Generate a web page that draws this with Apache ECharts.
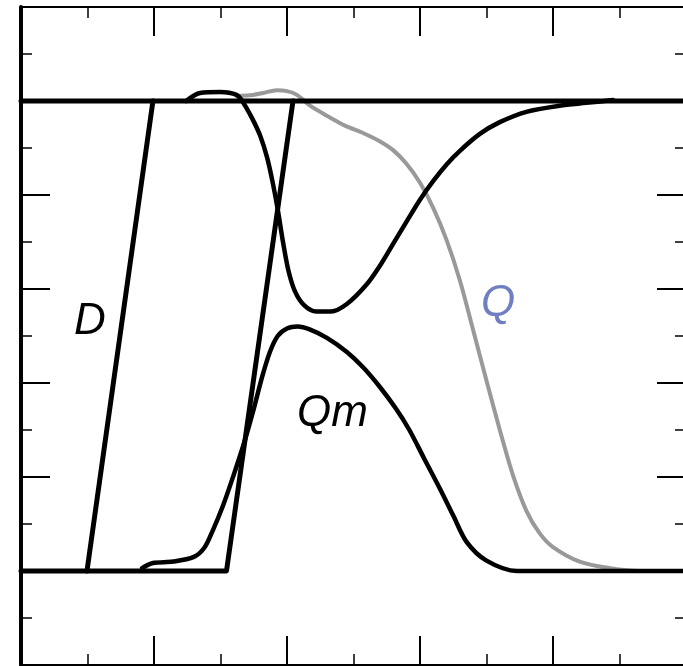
<!DOCTYPE html>
<html>
<head>
<meta charset="utf-8">
<script src="https://cdn.jsdelivr.net/npm/echarts@6/dist/echarts.min.js"></script>
<style>
  html, body { margin: 0; padding: 0; background: #fff; overflow: hidden; }
  #wrap { width: 683px; height: 666px; overflow: hidden; }
  #chart { width: 690px; height: 666px; }
</style>
</head>
<body>
<div id="wrap"><div id="chart"></div></div>
<script>
// Demand pulse D: lower plateau, rising edges, upper plateau
const dTop = [[0, 1], [5, 1]];
const dFront = [[0.496, 0], [0.992, 1]];
const dBack = [[0, 0], [1.545, 0], [2.045, 1]];

// Response Q (grey)
const qCurve = [
  [1.624, 1.011], [1.744, 1.013], [1.820, 1.017], [1.925, 1.023], [2.000, 1.021],
  [2.075, 1.013], [2.173, 0.990], [2.323, 0.965], [2.440, 0.947], [2.571, 0.932],
  [2.700, 0.914], [2.800, 0.895], [2.900, 0.866], [3.000, 0.826], [3.100, 0.772],
  [3.200, 0.704], [3.300, 0.618], [3.400, 0.512], [3.500, 0.405], [3.600, 0.300],
  [3.700, 0.203], [3.800, 0.128], [3.900, 0.080], [4.000, 0.051], [4.200, 0.020],
  [4.430, 0.006], [4.654, 0.000], [5, 0]
];

// Qm, upper branch (falls from 1 to a trough, then recovers to 1)
const qmUpper = [
  [1.241, 1.000], [1.346, 1.017], [1.496, 1.019], [1.620, 1.013], [1.670, 0.997],
  [1.740, 0.962], [1.800, 0.925], [1.850, 0.880], [1.890, 0.830], [1.930, 0.770],
  [1.970, 0.700], [2.010, 0.640], [2.060, 0.595], [2.130, 0.565], [2.220, 0.552],
  [2.330, 0.552], [2.450, 0.568], [2.600, 0.610], [2.700, 0.650], [2.800, 0.697],
  [2.900, 0.744], [3.000, 0.790], [3.100, 0.830], [3.200, 0.865], [3.300, 0.894],
  [3.450, 0.930], [3.600, 0.955], [3.800, 0.977], [4.050, 0.990], [4.250, 0.996],
  [4.451, 1.002]
];

// Qm, lower branch (rises from 0 to a peak, then returns to 0)
const qmLower = [
  [0.910, 0.006], [0.992, 0.017], [1.143, 0.020], [1.300, 0.030], [1.380, 0.050],
  [1.440, 0.085], [1.520, 0.140], [1.600, 0.205], [1.680, 0.275], [1.750, 0.345],
  [1.810, 0.410], [1.870, 0.465], [1.930, 0.500], [2.000, 0.516], [2.080, 0.520],
  [2.170, 0.514], [2.300, 0.496], [2.450, 0.466], [2.570, 0.434], [2.700, 0.391],
  [2.820, 0.345], [2.920, 0.300], [3.030, 0.240], [3.150, 0.175], [3.250, 0.118],
  [3.350, 0.062], [3.500, 0.022], [3.729, 0.000], [5, 0]
];

const xTicks = { min: 0, max: 5, interval: 1 };
const yTicks = { min: -0.2, max: 1.2, interval: 0.2 };

const chart = echarts.init(document.getElementById('chart'), null, { renderer: 'canvas' });

function frameAxis(extra, lineWidth) {
  return Object.assign({
    type: 'value',
    axisLine: { show: lineWidth > 0, onZero: false, lineStyle: { color: '#000', width: lineWidth } },
    axisTick: { show: true, inside: true, length: 29, lineStyle: { color: '#000', width: 2 } },
    minorTick: { show: true, splitNumber: 2, length: 11, lineStyle: { color: '#000', width: 1.5 } },
    axisLabel: { show: false },
    splitLine: { show: false },
    minorSplitLine: { show: false }
  }, extra);
}

function pathSeries(data, color, width, smooth) {
  return {
    type: 'line',
    data: data,
    showSymbol: false,
    smooth: smooth,
    silent: true,
    lineStyle: { color: color, width: width, cap: 'round', join: 'round' },
    emphasis: { disabled: true }
  };
}

const labelFont = '"Liberation Sans", Arial, sans-serif';

chart.setOption({
  animation: false,
  backgroundColor: '#fff',
  grid: { left: 21, right: 4, top: 7, bottom: 1 },
  xAxis: [
    frameAxis(Object.assign({ position: 'bottom' }, xTicks), 2),
    frameAxis(Object.assign({ position: 'top' }, xTicks), 2)
  ],
  yAxis: [
    frameAxis(Object.assign({ position: 'left' }, yTicks), 4),
    frameAxis(Object.assign({ position: 'right' }, yTicks), 0)
  ],
  series: [
    pathSeries(qCurve, '#999999', 4, 0.3),
    pathSeries(dTop, '#000', 5, false),
    pathSeries(dFront, '#000', 5, false),
    pathSeries(dBack, '#000', 5, false),
    pathSeries(qmUpper, '#000', 4.5, 0.3),
    pathSeries(qmLower, '#000', 4.5, 0.3)
  ],
  graphic: [
    { type: 'text', left: 74, top: 300, silent: true,
      style: { text: 'D', font: 'italic 44px ' + labelFont, fill: '#000' } },
    { type: 'text', left: 297, top: 392, silent: true,
      style: { text: 'Qm', font: 'italic 44px ' + labelFont, fill: '#000' } },
    { type: 'text', left: 481, top: 282, silent: true,
      style: { text: 'Q', font: 'italic 44px ' + labelFont, fill: '#6f7fc1' } }
  ]
});
</script>
</body>
</html>
